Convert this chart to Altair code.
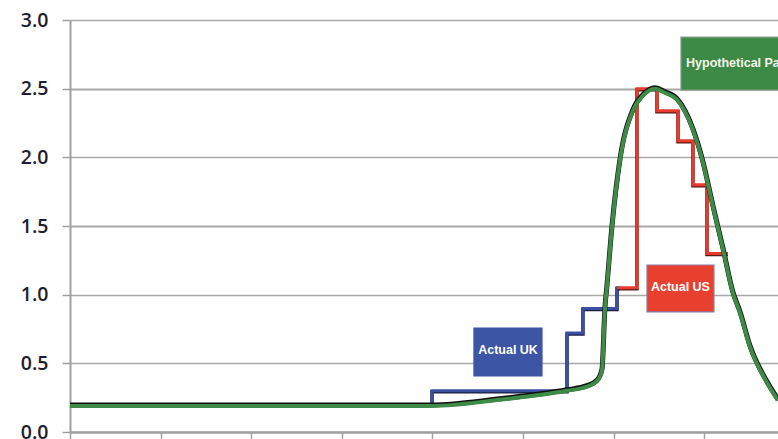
import altair as alt
import pandas as pd

# Hypothetical path (x in axis units, y in percent)
green_x = [0.0, 3.9, 3.996, 4.746, 5.486, 5.706, 5.817, 5.872, 5.905, 5.927, 5.982, 6.071,
           6.214, 6.325, 6.457, 6.567, 6.700, 6.876, 6.987, 7.097, 7.208, 7.318, 7.395,
           7.506, 7.693, 7.815]
green_y = [0.19, 0.19, 0.19, 0.235, 0.30, 0.33, 0.37, 0.45, 0.9, 1.06, 1.49, 1.98,
           2.34, 2.45, 2.50, 2.47, 2.42, 2.20, 1.96, 1.64, 1.33, 1.01, 0.87,
           0.62, 0.36, 0.23]

# Actual UK (step)
uk_x = [0.0, 3.996, 5.486, 5.662, 6.038, 6.071]
uk_y = [0.2, 0.3, 0.72, 0.9, 1.05, 1.05]

# Actual US (step)
us_x = [6.038, 6.258, 6.479, 6.711, 6.876, 7.031, 7.263]
us_y = [1.05, 2.5, 2.34, 2.12, 1.8, 1.3, 1.3]

labels = ["Actual UK", "Actual US", "Hypothetical Path"]
box_x = [4.459, 6.369, 6.744]
box_x2 = [5.21, 7.108, 8.6]
box_y = [0.757, 1.216, 2.876]
box_y2 = [0.408, 0.874, 2.49]
text_x = [4.835, 6.738, 6.80]
text_y = [0.595, 1.055, 2.69]
box_col = ["#3c55a5", "#e8402f", "#3d8a46"]
box_stroke = ["#3c55a5", "#8a78a8", "#8c9a8c"]

g = pd.DataFrame({"x": green_x, "y": green_y})
uk = pd.DataFrame({"x": uk_x, "y": uk_y})
us = pd.DataFrame({"x": us_x, "y": us_y})
boxes = pd.DataFrame({"label": labels, "x": box_x, "x2": box_x2, "y": box_y, "y2": box_y2,
                      "tx": text_x, "ty": text_y, "col": box_col, "sc": box_stroke})

xs = alt.Scale(domain=[0, 7.815], nice=False, zero=False)
ys = alt.Scale(domain=[0, 3], nice=False)

xax = alt.Axis(values=list(range(0, 8)), labels=False, tickSize=8, tickColor="#a0a0a0",
               tickWidth=1.5, domainColor="#a0a0a0", domainWidth=2.5, grid=False, title=None)
yax = alt.Axis(values=[0, 0.5, 1.0, 1.5, 2.0, 2.5, 3.0], format=".1f", tickSize=8,
               tickColor="#a0a0a0", tickWidth=1.5, domainColor="#a0a0a0", domainWidth=2,
               labelFontSize=19.5, labelFont="Open Sans", labelFontWeight=600,
               labelColor="#1e1e30", labelPadding=14, grid=True, gridColor="#a8a8a8",
               gridWidth={"condition": {"test": "datum.value == 1.5 || datum.value == 2.5", "value": 2.2}, "value": 1.3},
               title=None)

base_x = alt.X("x:Q", scale=xs, axis=xax)
base_y = alt.Y("y:Q", scale=ys, axis=yax)

uk_shadow = alt.Chart(uk).mark_line(interpolate="step-after", color="#1a1f40", strokeWidth=3.5, clip=True, yOffset=1).encode(
    x=base_x, y=base_y)
uk_line = alt.Chart(uk).mark_line(interpolate="step-after", color="#3b4fa3", strokeWidth=3, clip=True).encode(
    x=alt.X("x:Q", scale=xs), y=alt.Y("y:Q", scale=ys))
us_shadow = alt.Chart(us).mark_line(interpolate="step-after", color="#5a1a14", strokeWidth=3.5, clip=True, yOffset=1).encode(
    x=alt.X("x:Q", scale=xs), y=alt.Y("y:Q", scale=ys))
us_line = alt.Chart(us).mark_line(interpolate="step-after", color="#e63b2e", strokeWidth=3, clip=True).encode(
    x=alt.X("x:Q", scale=xs), y=alt.Y("y:Q", scale=ys))
g_shadow = alt.Chart(g).mark_line(interpolate="monotone", color="#111111", strokeWidth=5, clip=True, yOffset=-1).encode(
    x=alt.X("x:Q", scale=xs), y=alt.Y("y:Q", scale=ys))
g_line = alt.Chart(g).mark_line(interpolate="monotone", color="#3e8b47", strokeWidth=4, clip=True).encode(
    x=alt.X("x:Q", scale=xs), y=alt.Y("y:Q", scale=ys))

rects = alt.Chart(boxes).mark_rect(clip=True, strokeWidth=1.2).encode(
    x=alt.X("x:Q", scale=xs), x2="x2:Q", y=alt.Y("y:Q", scale=ys), y2="y2:Q",
    color=alt.Color("col:N", scale=None), stroke=alt.Stroke("sc:N", scale=None))

txt_c = alt.Chart(boxes[boxes.label != "Hypothetical Path"]).mark_text(
    color="white", font="Liberation Sans", fontWeight="bold", fontSize=12.5, align="center", baseline="middle").encode(
    x=alt.X("tx:Q", scale=xs), y=alt.Y("ty:Q", scale=ys), text="label:N")
txt_h = alt.Chart(boxes[boxes.label == "Hypothetical Path"]).mark_text(
    color="#f4f4e8", font="Liberation Sans", fontWeight="bold", fontSize=12.5, align="left", baseline="middle").encode(
    x=alt.X("tx:Q", scale=xs), y=alt.Y("ty:Q", scale=ys), text="label:N")

chart = alt.layer(uk_shadow, uk_line, us_shadow, us_line, g_shadow, g_line, rects, txt_c, txt_h).properties(
    width=708, height=412,
    autosize=alt.AutoSizeParams(type="none"),
    padding={"left": 70, "top": 20, "right": 0, "bottom": 7},
    background="white",
).configure_view(stroke=None)

chart.save("out.html", embed_options={"renderer": "svg", "actions": False})
